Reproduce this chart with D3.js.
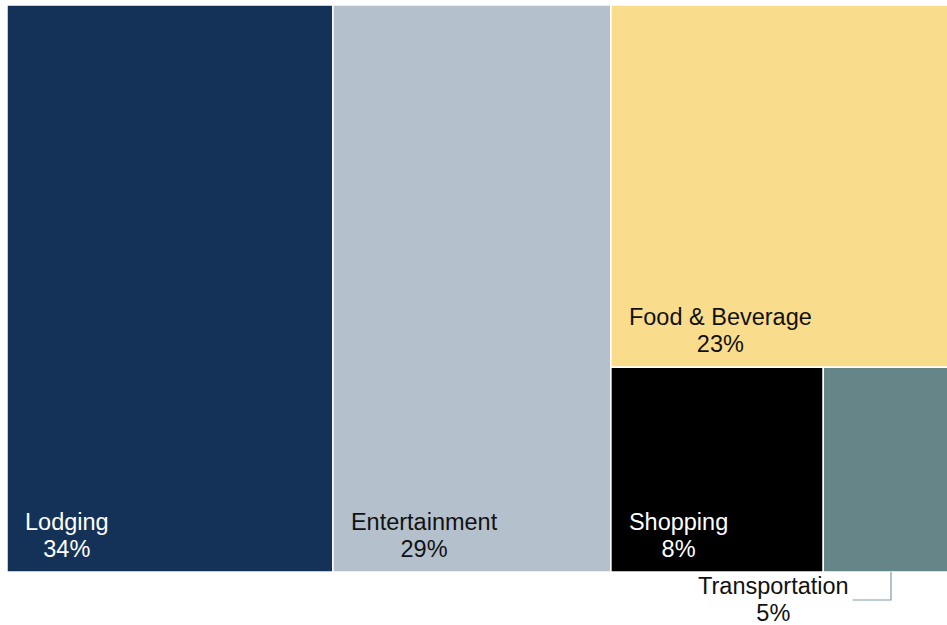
<!DOCTYPE html>
<html><head><meta charset="utf-8">
<script src="https://cdn.jsdelivr.net/npm/d3@7"></script>
<style>html,body{margin:0;padding:0;background:#fff;}svg{display:block;}</style>
</head><body>
<svg id="chart" width="947" height="625"></svg>
<script>
const categories = ["Lodging", "Entertainment", "Food & Beverage", "Shopping", "Transportation"];
const values = [34, 29, 23, 8, 5];
const labels = ["34%", "29%", "23%", "8%", "5%"];
const colors = ["#143257", "#b4c1cd", "#fadd8c", "#000000", "#658589"];
const textColors = ["#ffffff", "#111111", "#111111", "#ffffff", "#111111"];

const svg = d3.select("#chart");
const X0 = 7, Y0 = 5, W = 949, H = 567;

// nested structure: Lodging | Entertainment | [Food / [Shopping | Transportation]]
const leaf = i => ({name: categories[i], value: values[i], idx: i});
const tree = {name: "root", children: [leaf(0), leaf(1),
  {name: "g1", children: [leaf(2), {name: "g2", children: [leaf(3), leaf(4)]}]}]};

const root = d3.hierarchy(tree).sum(d => d.value || 0);
d3.treemap().tile(d3.treemapSliceDice).size([W, H]).round(false)(root);

const g = svg.append("g").attr("transform", `translate(${X0},${Y0})`);
const leaves = root.leaves();

g.selectAll("rect").data(leaves).join("rect")
  .attr("x", d => d.x0).attr("y", d => d.y0)
  .attr("width", d => d.x1 - d.x0).attr("height", d => d.y1 - d.y0)
  .attr("fill", d => colors[d.data.idx])
  .attr("stroke", "#ffffff").attr("stroke-width", 1.5);

const font = "'Liberation Sans', Arial, sans-serif";
const fs = 23.5;
leaves.forEach(d => {
  const i = d.data.idx;
  let lx = d.x0 + 18, ly;
  const outside = i === 4;
  if (outside) { lx = 698 - X0; ly = 594 - Y0; }
  else ly = d.y1 - 42;
  const t1 = g.append("text").attr("x", lx).attr("y", ly)
    .attr("font-family", font).attr("font-size", fs)
    .attr("fill", textColors[i]).text(categories[i]);
  const w = t1.node().getComputedTextLength();
  g.append("text").attr("x", lx + w / 2).attr("y", ly + 27)
    .attr("text-anchor", "middle")
    .attr("font-family", font).attr("font-size", fs)
    .attr("fill", textColors[i]).text(labels[i]);
  if (outside) {
    g.append("path")
      .attr("d", `M${lx + w + 4},${ly + 6}H${891 - X0}V${d.y1}`)
      .attr("fill", "none").attr("stroke", "#7f9aa8").attr("stroke-width", 1.2);
  }
});
</script>
</body></html>
